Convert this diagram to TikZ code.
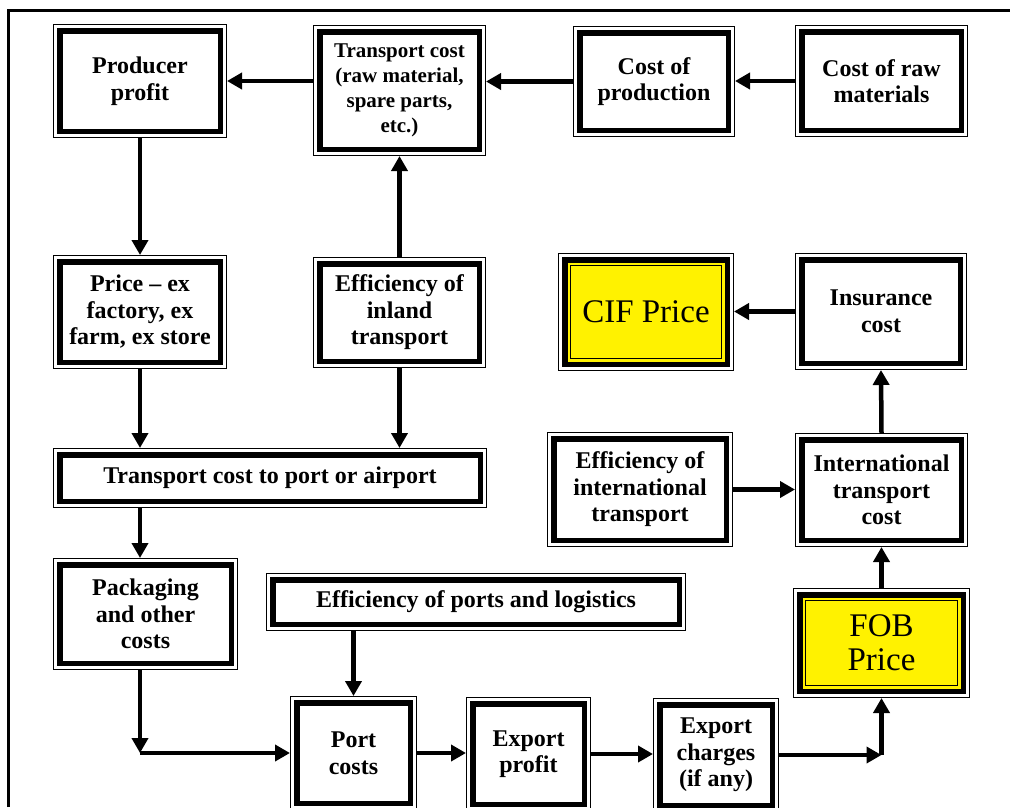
\documentclass[tikz,border=0pt]{standalone}
\usepackage{fontspec}
\setmainfont{Liberation Serif}
\usepackage{tikz}
\usetikzlibrary{arrows.meta,positioning}
\tikzstyle{blockbox}=[rectangle, draw, line width=5.5pt, fill=white, outer sep=6.75pt, inner sep=0pt, align=center, text=black, font=\rmfamily\bfseries\fontsize{24}{26.5}\selectfont, append after command={\pgfextra{\draw[line width=1.2pt] ([shift={(0.6pt,-0.6pt)}]\tikzlastnode.north west) rectangle ([shift={(-0.6pt,0.6pt)}]\tikzlastnode.south east);}}]
\tikzstyle{pricebox}=[blockbox, fill=yellow, font=\rmfamily\mdseries\fontsize{33}{34}\selectfont, path picture={\draw[line width=1.3pt] ([shift={(5.9pt,-5.9pt)}]path picture bounding box.north west) rectangle ([shift={(-5.9pt,5.9pt)}]path picture bounding box.south east);}]
\tikzstyle{flow}=[line width=4.5pt, -{Triangle[length=15pt,width=16pt]}]

\begin{document}
\begin{tikzpicture}[x=1pt,y=-1pt]
\useasboundingbox (0,0) rectangle (1010,807);
%frame
\draw[line width=3pt] (8.5,807) -- (8.5,10.5) -- (1010,10.5);

%Row One
\node[blockbox, minimum width=160.5pt, minimum height=100.5pt] (prod) at (140,81) {Producer\\profit};
\node[blockbox, minimum width=159.5pt, minimum height=117.5pt, font=\rmfamily\bfseries\fontsize{21}{25}\selectfont] (tcraw) at (399.5,90.5) {Transport cost\\(raw material,\\spare parts,\\etc.)};
\node[blockbox, minimum width=148.5pt, minimum height=97.5pt] (costprod) at (654,81.5) {Cost of\\production};
\node[blockbox, minimum width=159.5pt, minimum height=98.5pt] (costraw) at (881.5,81) {Cost of raw\\materials};
%Row Two
\node[blockbox, minimum width=160.5pt, minimum height=100.5pt] (price) at (140,312) {Price -- ex\\factory, ex\\farm, ex store};
\node[blockbox, minimum width=159.5pt, minimum height=97.5pt] (effinland) at (399.5,312.5) {Efficiency of\\inland\\transport};
\node[pricebox, minimum width=162.5pt, minimum height=104.5pt] (cif) at (646,312) {CIF Price};
\node[blockbox, minimum width=158.5pt, minimum height=103.5pt] (insur) at (881,311.5) {Insurance\\cost};
%Row Three
\node[blockbox, minimum width=420.5pt, minimum height=46.5pt] (tport) at (270,478) {Transport cost to port or airport};
\node[blockbox, minimum width=172.5pt, minimum height=101.5pt] (effintl) at (640,489.5) {Efficiency of\\international\\transport};
\node[blockbox, minimum width=159.5pt, minimum height=100.5pt] (intl) at (881.5,490) {International\\transport\\cost};
%Row Four
\node[blockbox, minimum width=171.5pt, minimum height=98.5pt] (pack) at (145.5,614) {Packaging\\and other\\costs};
\node[blockbox, minimum width=406.5pt, minimum height=44.5pt] (effports) at (476,602) {Efficiency of ports and logistics};
\node[pricebox, minimum width=163.5pt, minimum height=96.5pt] (fob) at (881.5,643) {FOB\\Price};
%Row Five
\node[blockbox, minimum width=113.5pt, minimum height=100.5pt] (port) at (353.5,753) {Port\\costs};
\node[blockbox, minimum width=111.5pt, minimum height=100.5pt] (expprof) at (528.5,754) {Export\\profit};
\node[blockbox, minimum width=112.5pt, minimum height=100.5pt] (expch) at (716,755) {Export\\charges\\(if any)};

%connectors
\coordinate (bendA) at (price.south |- port.west);
\coordinate (bendB) at (fob.south |- expch.east);
\draw[flow] (costraw.west) -- (costraw.west -| costprod.east);
\draw[flow] (costprod.west) -- (costprod.west -| tcraw.east);
\draw[flow] (tcraw.west |- prod.east) -- (prod.east);
\draw[flow] (prod.south) -- (price.north);
\draw[flow] (effinland.north) -- (tcraw.south);
\draw[flow] (price.south) -- (price.south |- tport.north);
\draw[flow] (effinland.south) -- (effinland.south |- tport.north);
\draw[flow] (price.south |- tport.south) -- (price.south |- pack.north);
\draw[flow] (price.south |- pack.south) -- (bendA);
\draw[flow] (bendA) -- (port.west);
\draw[flow] (port.north |- effports.south) -- (port.north);
\draw[flow] (port.east) -- (port.east -| expprof.west);
\draw[flow] (expprof.east) -- (expprof.east -| expch.west);
\draw[flow] (expch.east) -- (bendB);
\draw[flow] (bendB) -- (fob.south);
\draw[flow] (fob.north) -- (intl.south);
\draw[flow] (effintl.east) -- (effintl.east -| intl.west);
\draw[flow] (intl.north) -- (insur.south);
\draw[flow] (insur.west) -- (insur.west -| cif.east);

\end{tikzpicture}
\end{document}
